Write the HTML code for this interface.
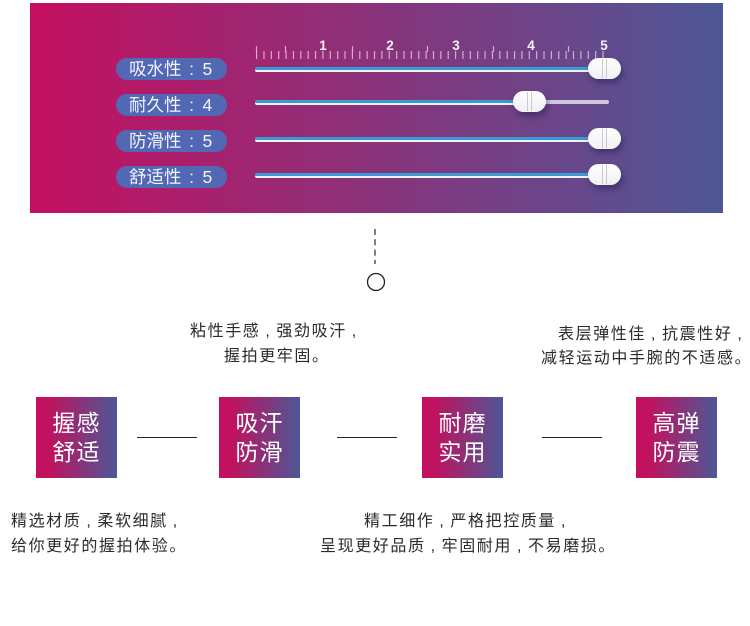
<!DOCTYPE html>
<html lang="zh">
<head>
<meta charset="utf-8">
<title>性能</title>
<style>
html,body{margin:0;padding:0;background:#fff}
body{width:750px;height:626px;position:relative;overflow:hidden;font-family:"Liberation Sans","Noto Sans CJK SC",sans-serif}
.panel{position:absolute;left:30px;top:3px;width:693px;height:210px;background:linear-gradient(90deg,#c50f60 0%,#4d5796 100%)}
.pill{position:absolute;left:116px;width:111px;height:22px;border-radius:11px;background:#5368b5;color:#f2f2fa;font-size:17.5px;line-height:22px;padding-left:13px;box-sizing:border-box;white-space:nowrap}
.pill i{font-style:normal;display:inline-block;width:20px;text-align:center;margin-right:1px}
.tr{position:absolute;left:255px;height:5px;border-radius:2px;background:linear-gradient(180deg,#3a9bd2 0,#3a9bd2 60%,#eef4fa 60%,#eef4fa 100%)}
.knob{position:absolute;width:33px;height:21px;border-radius:10.5px;background:linear-gradient(180deg,#fff 0,#f1f1f4 100%);box-shadow:2px 4px 6px rgba(30,25,80,.45)}
.knob:before{content:"";position:absolute;left:14px;top:1px;width:3px;height:19px;border-left:1px solid #c9c9d1;border-right:1px solid #c9c9d1}
.n{position:absolute;top:38px;width:20px;text-align:center;color:#f7f3f8;font-size:13.5px;font-weight:bold;line-height:16px}
.box{position:absolute;top:397px;width:81px;height:81px;background:linear-gradient(90deg,#c50f60 0%,#c0125f 15%,#4d5796 100%);color:#fff;font-size:23px;line-height:29px;text-align:center;letter-spacing:1px;box-sizing:border-box;padding-top:12px}
.hr{position:absolute;top:437px;width:60px;height:1px;background:#222}
.t{position:absolute;font-size:16px;letter-spacing:1.6px;line-height:20px;color:#2b2b2b;white-space:nowrap}
.t i{font-style:normal;display:inline-block;width:16px;text-align:center}
</style>
</head>
<body>
<div class="panel"></div>

<svg style="position:absolute;left:0;top:0" width="750" height="626">
<line x1="256" y1="55" x2="606" y2="55" stroke="#efc4dd" stroke-opacity=".8" stroke-width="8" stroke-dasharray="1.2 6.17"/>
<path d="M256.5 46V52M285.5 46V52M352.5 46V52M427.5 46V52M493.5 46V52M568.5 46V52" stroke="#efc4dd" stroke-opacity=".8" stroke-width="1.2" fill="none"/>
<line x1="375" y1="229" x2="375" y2="264" stroke="#555" stroke-width="1.5" stroke-dasharray="6 4.3"/>
<circle cx="376" cy="282" r="8.5" fill="#fff" stroke="#222" stroke-width="1.3"/>
</svg>

<div class="n" style="left:313px">1</div>
<div class="n" style="left:380px">2</div>
<div class="n" style="left:446px">3</div>
<div class="n" style="left:521px">4</div>
<div class="n" style="left:594px">5</div>

<div class="pill" style="top:58px">吸水性<i>:</i>5</div>
<div class="pill" style="top:94px">耐久性<i>:</i>4</div>
<div class="pill" style="top:130px">防滑性<i>:</i>5</div>
<div class="pill" style="top:166px">舒适性<i>:</i>5</div>

<div class="tr" style="top:67px;width:340px"></div>
<div style="position:absolute;left:540px;top:100px;width:69px;height:4px;border-radius:2px;background:#cfc9dc"></div>
<div class="tr" style="top:100px;width:265px"></div>
<div class="tr" style="top:137px;width:340px"></div>
<div class="tr" style="top:173px;width:340px"></div>

<div class="knob" style="left:588px;top:58px"></div>
<div class="knob" style="left:513px;top:91px"></div>
<div class="knob" style="left:588px;top:128px"></div>
<div class="knob" style="left:588px;top:164px"></div>

<div class="t" style="left:190px;top:322px">粘性手感<i>,</i>强劲吸汗<i>,</i></div>
<div class="t" style="left:224px;top:347px">握拍更牢固。</div>
<div class="t" style="left:558px;top:325px">表层弹性佳<i>,</i>抗震性好<i>,</i></div>
<div class="t" style="left:541px;top:349px">减轻运动中手腕的不适感。</div>

<div class="box" style="left:36px">握感<br>舒适</div>
<div class="box" style="left:219px">吸汗<br>防滑</div>
<div class="box" style="left:422px">耐磨<br>实用</div>
<div class="box" style="left:636px">高弹<br>防震</div>

<div class="hr" style="left:137px"></div>
<div class="hr" style="left:337px"></div>
<div class="hr" style="left:542px"></div>

<div class="t" style="left:11px;top:512px">精选材质<i>,</i>柔软细腻<i>,</i></div>
<div class="t" style="left:11px;top:537px">给你更好的握拍体验。</div>
<div class="t" style="left:364px;top:512px">精工细作<i>,</i>严格把控质量<i>,</i></div>
<div class="t" style="left:320px;top:537px">呈现更好品质<i>,</i>牢固耐用<i>,</i>不易磨损。</div>
</body>
</html>
